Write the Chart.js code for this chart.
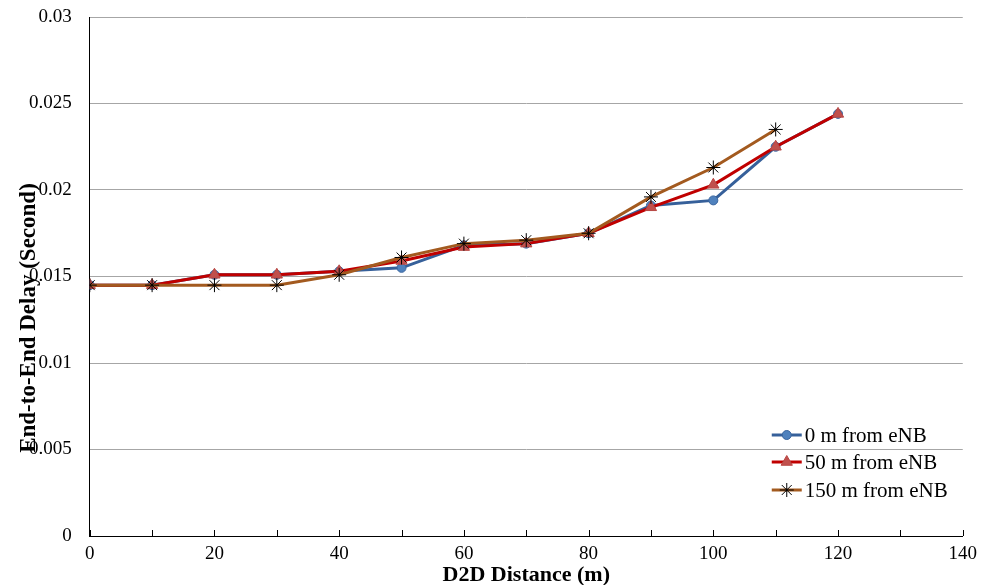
<!DOCTYPE html>
<html>
<head>
<meta charset="utf-8">
<script src="https://cdn.jsdelivr.net/npm/chart.js"></script>
<style>
  html, body { margin: 0; padding: 0; background: #ffffff; }
  #wrap { width: 984px; height: 585px; }
</style>
</head>
<body>
<div id="wrap"><canvas id="c" width="984" height="585"></canvas></div>
<script>
// D2D distance (m) on the x axis
const distances = [0, 10, 20, 30, 40, 50, 60, 70, 80, 90, 100, 110, 120];

// End-to-end delay (s) for each UE position relative to the eNB
const delay0m   = [0.0145, 0.0145, 0.0151, 0.0151, 0.0153, 0.0155, 0.0168, 0.0169, 0.0175, 0.0191, 0.0194, 0.0225, 0.0244];
const delay50m  = [0.0145, 0.0145, 0.0151, 0.0151, 0.0153, 0.0159, 0.0167, 0.0169, 0.0175, 0.0190, 0.0203, 0.0225, 0.0244];
const delay150m = [0.0145, 0.0145, 0.0145, 0.0145, 0.0151, 0.0161, 0.0169, 0.0171, 0.0175, 0.0196, 0.0213, 0.0235];

const seriesNames = ['0 m from eNB', '50 m from eNB', '150 m from eNB'];
const yTickLabels = ['0', '0.005', '0.01', '0.015', '0.02', '0.025', '0.03'];
const xTickLabels = ['0', '20', '40', '60', '80', '100', '120', '140'];
const xMinorTicks = [0, 10, 20, 30, 40, 50, 60, 70, 80, 90, 100, 110, 120, 130, 140];

const yTitle = 'End-to-End Delay (Second)';
const xTitle = 'D2D Distance (m)';

const SERIF = '"Liberation Serif", "Times New Roman", serif';

function toPoints(values) {
  return values.map((v, i) => ({ x: distances[i], y: v }));
}

// Short inward tick marks on the x axis, the rotated y title and the line+marker legend
const decorations = {
  id: 'decorations',
  afterDatasetsDraw(chart) {
    const { ctx, chartArea, scales } = chart;
    const xs = scales.x;
    ctx.save();
    ctx.strokeStyle = '#000000';
    ctx.lineWidth = 1;
    xMinorTicks.forEach(v => {
      const px = Math.round(xs.getPixelForValue(v)) + 0.5;
      ctx.beginPath();
      ctx.moveTo(px, chartArea.bottom);
      ctx.lineTo(px, chartArea.bottom - 6);
      ctx.stroke();
    });
    ctx.restore();
  },
  afterDraw(chart) {
    const { ctx, chartArea } = chart;
    // y axis title
    ctx.save();
    ctx.translate(29, 318);
    ctx.rotate(-Math.PI / 2);
    ctx.font = 'bold 23px ' + SERIF;
    ctx.fillStyle = '#000000';
    ctx.textAlign = 'center';
    ctx.textBaseline = 'middle';
    ctx.fillText(yTitle, 0, 0);
    ctx.restore();

    // legend in the lower right of the plot
    const x0 = chartArea.right - 191;
    const rowY = [chartArea.bottom - 101, chartArea.bottom - 74, chartArea.bottom - 46];
    chart.data.datasets.forEach((ds, i) => {
      const y = rowY[i];
      ctx.save();
      ctx.strokeStyle = ds.borderColor;
      ctx.lineWidth = ds.borderWidth;
      ctx.beginPath();
      ctx.moveTo(x0, y);
      ctx.lineTo(x0 + 30, y);
      ctx.stroke();
      ctx.fillStyle = ds.pointBackgroundColor;
      ctx.strokeStyle = ds.pointBorderColor;
      ctx.lineWidth = ds.pointBorderWidth;
      Chart.helpers.drawPoint(ctx, {
        pointStyle: ds.pointStyle,
        radius: ds.pointRadius,
        rotation: 0,
        borderWidth: ds.pointBorderWidth
      }, x0 + 15, y);
      ctx.restore();
      ctx.save();
      ctx.font = '21px ' + SERIF;
      ctx.fillStyle = '#000000';
      ctx.textAlign = 'left';
      ctx.textBaseline = 'middle';
      ctx.fillText(seriesNames[i], x0 + 33, y + 1);
      ctx.restore();
    });
  }
};

new Chart(document.getElementById('c'), {
  type: 'line',
  data: {
    datasets: [
      {
        label: seriesNames[0],
        data: toPoints(delay0m),
        borderColor: '#36609A',
        borderWidth: 3,
        pointStyle: 'circle',
        pointRadius: 4.5,
        pointBackgroundColor: '#4F81BD',
        pointBorderColor: '#3A659E',
        pointBorderWidth: 1,
        order: 2
      },
      {
        label: seriesNames[1],
        data: toPoints(delay50m),
        borderColor: '#C00000',
        borderWidth: 3,
        pointStyle: 'triangle',
        pointRadius: 6.5,
        pointBackgroundColor: '#C0504D',
        pointBorderColor: '#B84744',
        pointBorderWidth: 1,
        order: 1
      },
      {
        label: seriesNames[2],
        data: toPoints(delay150m),
        borderColor: '#A35A1F',
        borderWidth: 3,
        pointStyle: 'star',
        pointRadius: 7,
        pointBackgroundColor: '#000000',
        pointBorderColor: '#000000',
        pointBorderWidth: 1,
        order: 0
      }
    ]
  },
  options: {
    responsive: false,
    animation: false,
    devicePixelRatio: 1,
    layout: { padding: { left: 11, right: 20, top: 17, bottom: -1 } },
    elements: { line: { tension: 0 } },
    plugins: {
      legend: { display: false },
      tooltip: { enabled: false }
    },
    scales: {
      x: {
        type: 'linear',
        min: 0,
        max: 140,
        grid: { display: false, drawTicks: false },
        border: { display: true, color: '#000000', width: 1 },
        ticks: {
          stepSize: 20,
          padding: 7,
          color: '#000000',
          font: { family: SERIF, size: 19 },
          maxRotation: 0,
          callback: (v) => xTickLabels[xTickLabels.indexOf(String(v))] ?? ''
        },
        title: {
          display: true,
          text: xTitle,
          color: '#000000',
          font: { family: SERIF, size: 22, weight: 'bold', lineHeight: 1 },
          padding: { top: -8.8, bottom: 0 }
        }
      },
      y: {
        min: 0,
        max: 0.03,
        grid: { color: '#A6A6A6', lineWidth: 1, drawTicks: false },
        border: { display: true, color: '#000000', width: 1 },
        // the label gap should not push the plot top down
        afterFit: (scale) => { scale.paddingTop = 0; scale.paddingBottom = 0; },
        ticks: {
          stepSize: 0.005,
          padding: 18,
          color: '#000000',
          font: { family: SERIF, size: 19 },
          callback: (v) => yTickLabels[Math.round(v / 0.005)]
        }
      }
    }
  },
  plugins: [decorations]
});
</script>
</body>
</html>
